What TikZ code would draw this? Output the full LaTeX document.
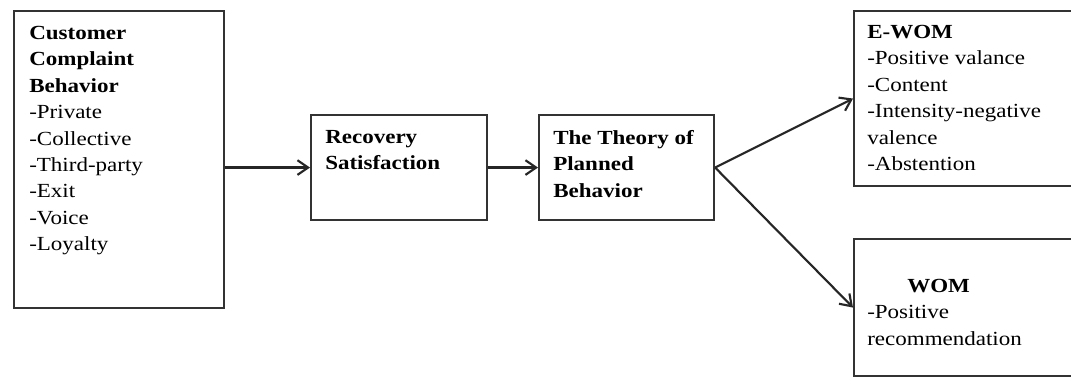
\documentclass[tikz,border=0pt]{standalone}
\usepackage{fontspec}
\setmainfont{Liberation Serif}[FakeStretch=1.15]
\usetikzlibrary{arrows.meta}

\begin{document}
\begin{tikzpicture}[x=0.75pt, y=-0.75pt,
    box/.style={draw=black!80, line width=1.6pt, rectangle, inner sep=0pt, anchor=north west},
    txt/.style={anchor=north west, inner sep=0pt, align=left, font=\fontsize{15}{19.8}\selectfont},
    link/.style={-{Straight Barb[length=8pt,width=11pt]}, line width=1.6pt, draw=black!85}]
    \clip (0,0) rectangle (1071,377);
    \fill[white] (0,0) rectangle (1071,377);
    % Boxes
    \node[box, minimum width=157.5pt, minimum height=222.75pt] (ccb) at (13,10) {};
    \node[box, minimum width=132pt, minimum height=78.75pt] (rec) at (310,114) {};
    \node[box, minimum width=131.25pt, minimum height=78.75pt] (tpb) at (538,114) {};
    \node[box, minimum width=180pt, minimum height=131.25pt] (ewom) at (853,10) {};
    \node[box, minimum width=180pt, minimum height=102.75pt] (wom) at (853,238) {};
    % Texts
    \node[txt] (ccb-t) at ([shift={(16,16)}]ccb.north west)
        {\textbf{Customer}\\ \textbf{Complaint}\\ \textbf{Behavior}\\ -Private\\ -Collective\\ -Third-party\\ -Exit\\ -Voice\\ -Loyalty};
    \node[txt] (rec-t) at ([shift={(15,16)}]rec.north west)
        {\textbf{Recovery}\\ \textbf{Satisfaction}};
    \node[txt] (tpb-t) at ([shift={(15,16)}]tpb.north west)
        {\textbf{The Theory of}\\ \textbf{Planned}\\ \textbf{Behavior}};
    \node[txt] (ewom-t) at ([shift={(14,15)}]ewom.north west)
        {\textbf{E-WOM}\\ -Positive valance\\ -Content\\ -Intensity-negative\\ valence\\ -Abstention};
    \node[txt] (wom-t) at ([shift={(14,41)}]wom.north west)
        {\hspace{30pt}\textbf{WOM}\\ -Positive\\ recommendation};
    % Arrows
    \draw[link] (ccb.east |- rec.west) -- (rec.west);
    \draw[link] (rec.east) -- (tpb.west);
    \draw[link] (tpb.east) -- (ewom.west);
    \draw[link] (tpb.east) -- (wom.west);
\end{tikzpicture}
\end{document}
